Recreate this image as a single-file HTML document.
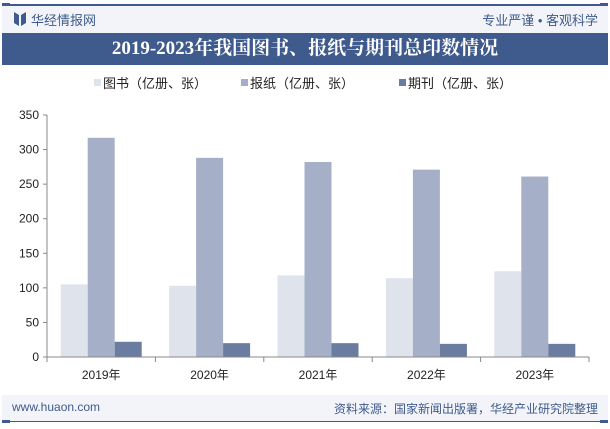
<!DOCTYPE html>
<html><head><meta charset="utf-8"><style>
body{margin:0;width:610px;height:429px;background:#fff;font-family:"Liberation Sans","Noto Sans CJK SC",sans-serif;overflow:hidden;position:relative}
.a{position:absolute}
</style></head><body>
<div class="a" style="left:2px;top:4px;width:606px;height:2px;background:#3f5a8c"></div>
<div class="a" style="left:2px;top:3px;width:8px;height:4px;background:#3f5a8c"></div>
<div class="a" style="left:600px;top:3px;width:8px;height:4px;background:#3f5a8c"></div>
<div class="a" style="left:2px;top:6px;width:606px;height:27px;background:#f2f4f9"></div>
<svg class="a" style="left:14px;top:12px" width="12" height="14"><polygon points="0,0 5,3 5,14 0,11" fill="#3f5a8c"/><polygon points="12,0 7,3 7,14 12,11" fill="#3f5a8c"/></svg>
<div class="a" style="left:31px;top:10px;font-size:13px;color:#3f5a8c">华经情报网</div>
<div class="a" style="left:400px;top:10px;width:198px;text-align:right;font-size:13px;color:#3f5a8c">专业严谨 • 客观科学</div>
<div class="a" style="left:2px;top:33px;width:606px;height:32px;background:#3f5a8c"></div>
<div class="a" style="left:2px;top:33px;width:606px;height:32px;line-height:32px;text-align:center;color:#fff;font-weight:bold;font-size:19px;font-family:'Liberation Serif','Noto Serif CJK SC',serif">2019-2023年我国图书、报纸与期刊总印数情况</div>
<svg class="a" id="chart" style="left:0;top:0" width="610" height="429"></svg>
<div class="a" style="left:2px;top:395px;width:606px;height:26px;background:#f2f4f9"></div>
<div class="a" style="left:2px;top:421px;width:606px;height:1px;background:#3f5a8c"></div>
<div class="a" style="left:2px;top:420px;width:8px;height:3px;background:#3f5a8c"></div>
<div class="a" style="left:600px;top:420px;width:8px;height:3px;background:#3f5a8c"></div>
<div class="a" style="left:12px;top:400px;font-size:12px;color:#3f5a8c">www.huaon.com</div>
<div class="a" style="left:300px;top:400px;width:298px;text-align:right;font-size:12px;color:#3f5a8c">资料来源：国家新闻出版署，华经产业研究院整理</div>
<script>
const categories=["2019年","2020年","2021年","2022年","2023年"];
const books=[105,103,118,114,124];
const papers=[317,288,282,271,261];
const periodicals=[22,20,20,19,19];
const yTicks=[0,50,100,150,200,250,300,350];
const seriesNames=["图书（亿册、张）","报纸（亿册、张）","期刊（亿册、张）"];
const colors=["#dfe3ec","#a5b0c8","#6a7ca0"];
const NS="http://www.w3.org/2000/svg";
const svg=document.getElementById('chart');
const x0=47,x1=589,yTop=115,yBot=357,yMax=350;
const y=v=>yBot-(v/yMax)*(yBot-yTop);
const cw=(x1-x0)/categories.length;
function mk(t,a){const e=document.createElementNS(NS,t);for(const k in a)e.setAttribute(k,a[k]);svg.appendChild(e);return e;}
const series=[books,papers,periodicals];
const bw=27;
categories.forEach((c,i)=>{
  const cx=x0+cw*i+cw/2;
  series.forEach((s,j)=>{
    const r=mk('rect',{x:cx-1.5*bw+j*bw,y:y(s[i]),width:bw,height:yBot-y(s[i]),fill:colors[j]});
    
    
  });
  const t=mk('text',{x:cx,y:yBot+22,'text-anchor':'middle','font-size':12,fill:'#222'});
  t.textContent=c;
  
  
});
for(let i=0;i<=categories.length;i++){
  const tx=x0+cw*i;
  const l=mk('line',{x1:tx,x2:tx,y1:yBot,y2:yBot+5,stroke:'#888'});
  
  
}
yTicks.forEach(v=>{
  const l=mk('line',{x1:x0-4,x2:x0,y1:y(v),y2:y(v),stroke:'#888'});
  
  
  const t=mk('text',{x:x0-8,y:y(v)+4,'text-anchor':'end','font-size':12,fill:'#222'});
  t.textContent=v;
  
  
});
const ax=mk('line',{x1:x0,x2:x0,y1:yTop,y2:yBot,stroke:'#888'});


const bx=mk('line',{x1:x0,x2:x1,y1:yBot,y2:yBot,stroke:'#888'});


const lx=[94,241,399];
seriesNames.forEach((n,j)=>{
  const r=mk('rect',{x:lx[j],y:79,width:7,height:7,fill:colors[j]});
  
  
  const t=mk('text',{x:lx[j]+9,y:88,'font-size':13,fill:'#222'});
  t.textContent=n;
  
  
});
</script>
</body></html>
